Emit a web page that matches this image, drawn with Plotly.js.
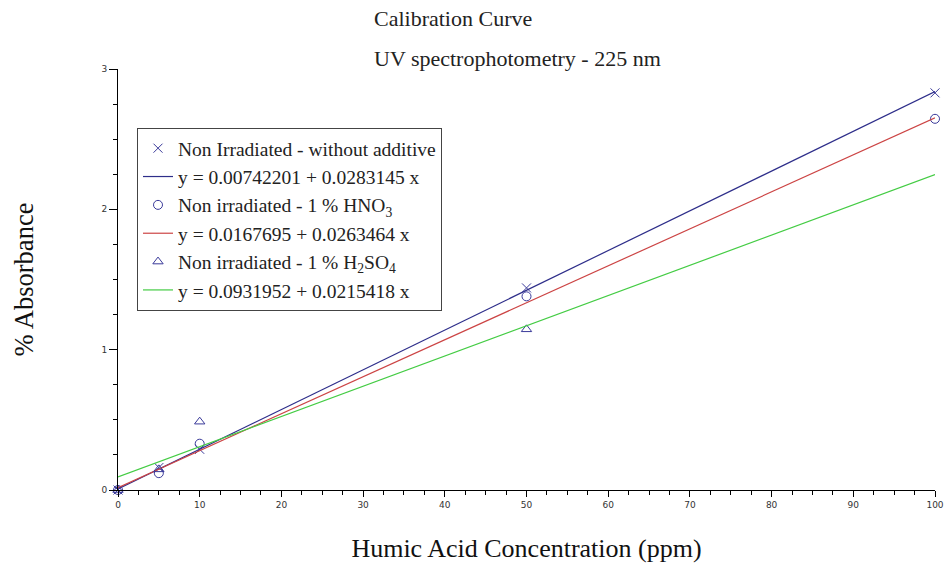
<!DOCTYPE html>
<html><head><meta charset="utf-8">
<script src="https://cdn.plot.ly/plotly-3.0.1.min.js"></script>
<style>html,body{margin:0;padding:0;background:#fff}#c{width:946px;height:571px}</style>
</head><body><div id="c"></div>
<script>
const concentration = [0, 5, 10, 50, 100];
const absNoAdditive = [0, 0.16, 0.29, 1.44, 2.83];
const absHNO3 = [0, 0.12, 0.33, 1.38, 2.645];
const concH2SO4 = [0, 5, 10, 50];
const absH2SO4 = [0, 0.147, 0.487, 1.145];
const fitIntercepts = [0.00742201, 0.0167695, 0.0931952];
const fitSlopes = [0.0283145, 0.0263464, 0.0215418];
const fitRange = [0, 100];
const seriesNames = ["Non Irradiated - without additive", "Non irradiated - 1 % HNO<sub>3</sub>", "Non irradiated - 1 % H<sub>2</sub>SO<sub>4</sub>"];
const fitNames = ["y = 0.00742201 + 0.0283145 x", "y = 0.0167695 + 0.0263464 x", "y = 0.0931952 + 0.0215418 x"];

const markerColor = "#3a3a9a";
const lineColors = ["#2e2e8a", "#cc4444", "#44cc44"];
const symbols = ["x-thin-open", "circle-open", "triangle-up-open"];
const xs = [concentration, concentration, concH2SO4];
const ys = [absNoAdditive, absHNO3, absH2SO4];

const traces = [];
for (let i = 0; i < 3; i++) {
  traces.push({
    x: xs[i], y: ys[i], mode: "markers", type: "scatter", name: seriesNames[i],
    marker: {symbol: symbols[i], size: 9, color: markerColor, line: {color: markerColor, width: 1}},
    cliponaxis: false
  });
  traces.push({
    x: fitRange, y: fitRange.map(v => fitIntercepts[i] + fitSlopes[i] * v),
    mode: "lines", type: "scatter", name: fitNames[i],
    line: {color: lineColors[i], width: 1.2}
  });
}

const serif = "Liberation Serif, Times New Roman, serif";
const layout = {
  width: 946, height: 571,
  margin: {l: 118, r: 11, t: 69, b: 81},
  paper_bgcolor: "#fff", plot_bgcolor: "#fff",
  showlegend: true,
  legend: {
    x: (137-118)/817, y: (490-128)/421, xanchor: "left", yanchor: "top",
    bordercolor: "#444", borderwidth: 1, bgcolor: "#fff",
    font: {family: serif, size: 19.5, color: "#222"},
    tracegroupgap: 0, itemwidth: 30
  },
  xaxis: {
    range: [0, 100], showgrid: false, zeroline: false,
    showline: true, linecolor: "#000", linewidth: 1,
    ticks: "outside", ticklen: 6, tickcolor: "#000", dtick: 10, tick0: 0,
    minor: {ticks: "outside", ticklen: 4, dtick: 2.5, tickcolor: "#000", showgrid: false},
    tickfont: {family: "DejaVu Sans, sans-serif", size: 9, color: "#333"},
    title: {text: "Humic Acid Concentration (ppm)", font: {family: serif, size: 26, color: "#111"}, standoff: 30}
  },
  yaxis: {
    range: [0, 3], showgrid: false, zeroline: false,
    showline: true, linecolor: "#000", linewidth: 1,
    ticks: "outside", ticklen: 8, tickcolor: "#000", dtick: 1, tick0: 0,
    minor: {ticks: "outside", ticklen: 4, dtick: 0.25, tickcolor: "#000", showgrid: false},
    tickfont: {family: "DejaVu Sans, sans-serif", size: 9, color: "#333"},
    title: {text: "% Absorbance", font: {family: serif, size: 26.5, color: "#111"}, standoff: 60}
  },
  annotations: [
    {text: "Calibration Curve", xref: "paper", yref: "paper", x: (372-118)/817, y: 1, yshift: 51, xanchor: "left", yanchor: "middle", showarrow: false, font: {family: serif, size: 22, color: "#222"}},
    {text: "UV spectrophotometry - 225 nm", xref: "paper", yref: "paper", x: (372-118)/817, y: 1, yshift: 11, xanchor: "left", yanchor: "middle", showarrow: false, font: {family: serif, size: 22, color: "#222"}}
  ]
};
Plotly.newPlot("c", traces, layout, {displayModeBar: false, staticPlot: true});
</script></body></html>
